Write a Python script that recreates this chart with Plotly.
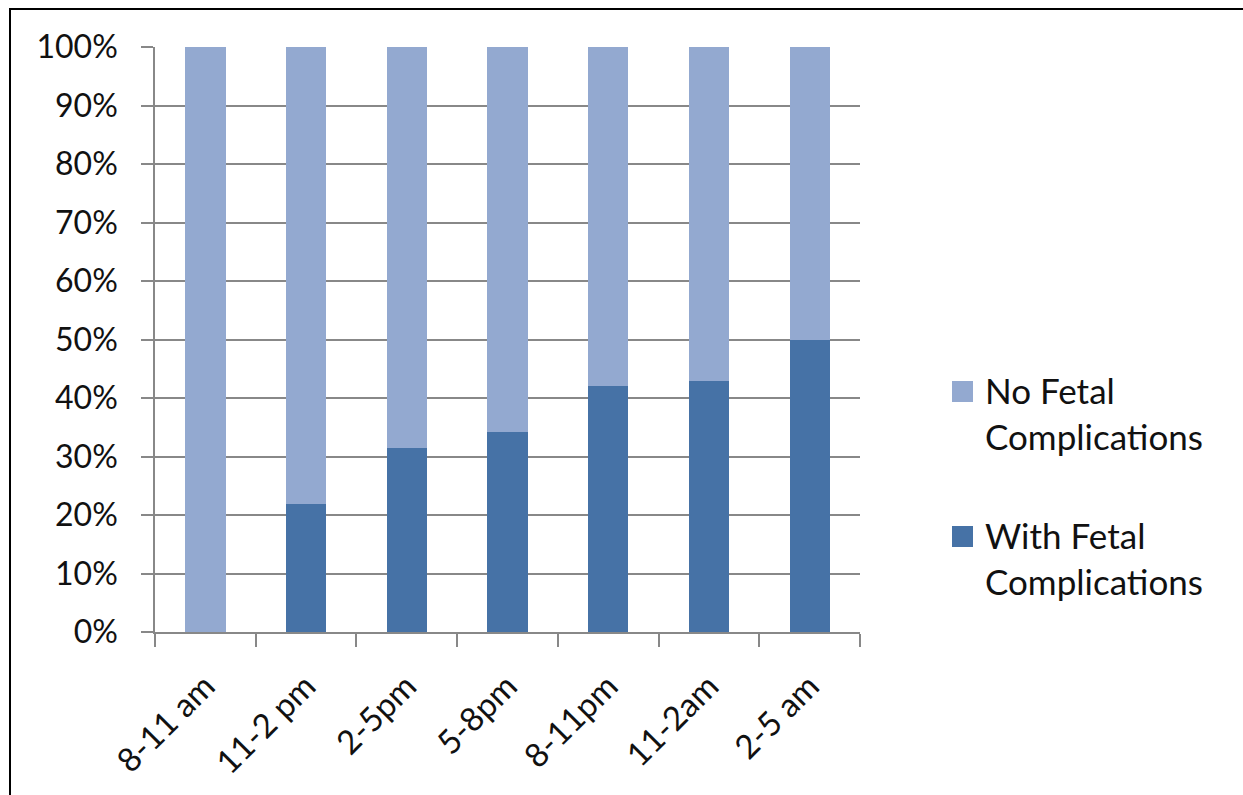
import plotly.graph_objects as go

# Share of deliveries by time-of-day window
time_windows = ["8-11 am", "11-2 pm", "2-5pm", "5-8pm", "8-11pm", "11-2am", "2-5 am"]
with_complications = [0.0, 21.8, 31.5, 34.2, 42.1, 42.9, 50.0]
no_complications = [100.0 - v for v in with_complications]

series_names = ["No Fetal Complications", "With Fetal Complications"]
legend_lines = [["No Fetal", "Complications"], ["With Fetal", "Complications"]]

LIGHT = "#93A9D0"
DARK = "#4672A6"
GRID = "#888888"
FONT = "Lato, 'Open Sans', sans-serif"

W, H = 1243, 795
L, R, T, B = 155, 383, 47, 163
plot_w = W - L - R
plot_h = H - T - B


def px_x(px):
    return (px - L) / plot_w


def px_y(py):
    return (H - B - py) / plot_h


fig = go.Figure()
fig.add_trace(go.Bar(
    x=time_windows, y=with_complications,
    name=series_names[1],
    marker=dict(color=DARK, line=dict(width=0)),
))
fig.add_trace(go.Bar(
    x=time_windows, y=no_complications,
    name=series_names[0],
    marker=dict(color=LIGHT, line=dict(width=0)),
))

fig.update_layout(
    width=W, height=H,
    barmode="stack",
    bargap=0.6,
    plot_bgcolor="white",
    paper_bgcolor="white",
    margin=dict(l=L, r=R, t=T, b=B, pad=0),
    font=dict(family=FONT, size=32, color="#111111"),
    showlegend=False,
)

fig.update_yaxes(
    range=[0, 100],
    tickvals=[0, 10, 20, 30, 40, 50, 60, 70, 80, 90, 100],
    ticktext=["0%", "10%", "20%", "30%", "40%", "50%", "60%", "70%", "80%", "90%", "100%"],
    showgrid=True, gridcolor=GRID, gridwidth=1.5,
    showline=True, linecolor=GRID, linewidth=1.5,
    ticks="outside", ticklen=12, tickcolor=GRID, tickwidth=1.5,
    ticklabelstandoff=17,
    zeroline=False,
)
fig.update_xaxes(
    showline=True, linecolor=GRID, linewidth=1.5,
    ticks="outside", ticklen=13, tickcolor=GRID, tickwidth=1.5,
    tickson="boundaries",
    tickangle=-45,
    ticklabelstandoff=20,
    tickfont=dict(size=33),
    showgrid=False,
)

# Legend: colour swatch plus two text lines per series
swatch_tops = [381, 526]
for colour, lines, top in zip([LIGHT, DARK], legend_lines, swatch_tops):
    fig.add_shape(
        type="rect", xref="paper", yref="paper",
        x0=px_x(952), x1=px_x(973), y0=px_y(top + 21), y1=px_y(top),
        line=dict(width=0), fillcolor=colour,
    )
    for i, line in enumerate(lines):
        fig.add_annotation(
            xref="paper", yref="paper",
            x=px_x(983), y=px_y(top + 9 + 46 * i),
            xanchor="left", yanchor="middle",
            text=line, showarrow=False,
            font=dict(family=FONT, size=35, color="#111111"),
        )

# Outer frame around the whole chart
fig.add_shape(
    type="rect", xref="paper", yref="paper",
    x0=px_x(10), x1=px_x(1260), y0=px_y(820), y1=px_y(9),
    line=dict(color="black", width=2), fillcolor="rgba(0,0,0,0)",
    layer="below",
)

fig.write_html("out.html")
